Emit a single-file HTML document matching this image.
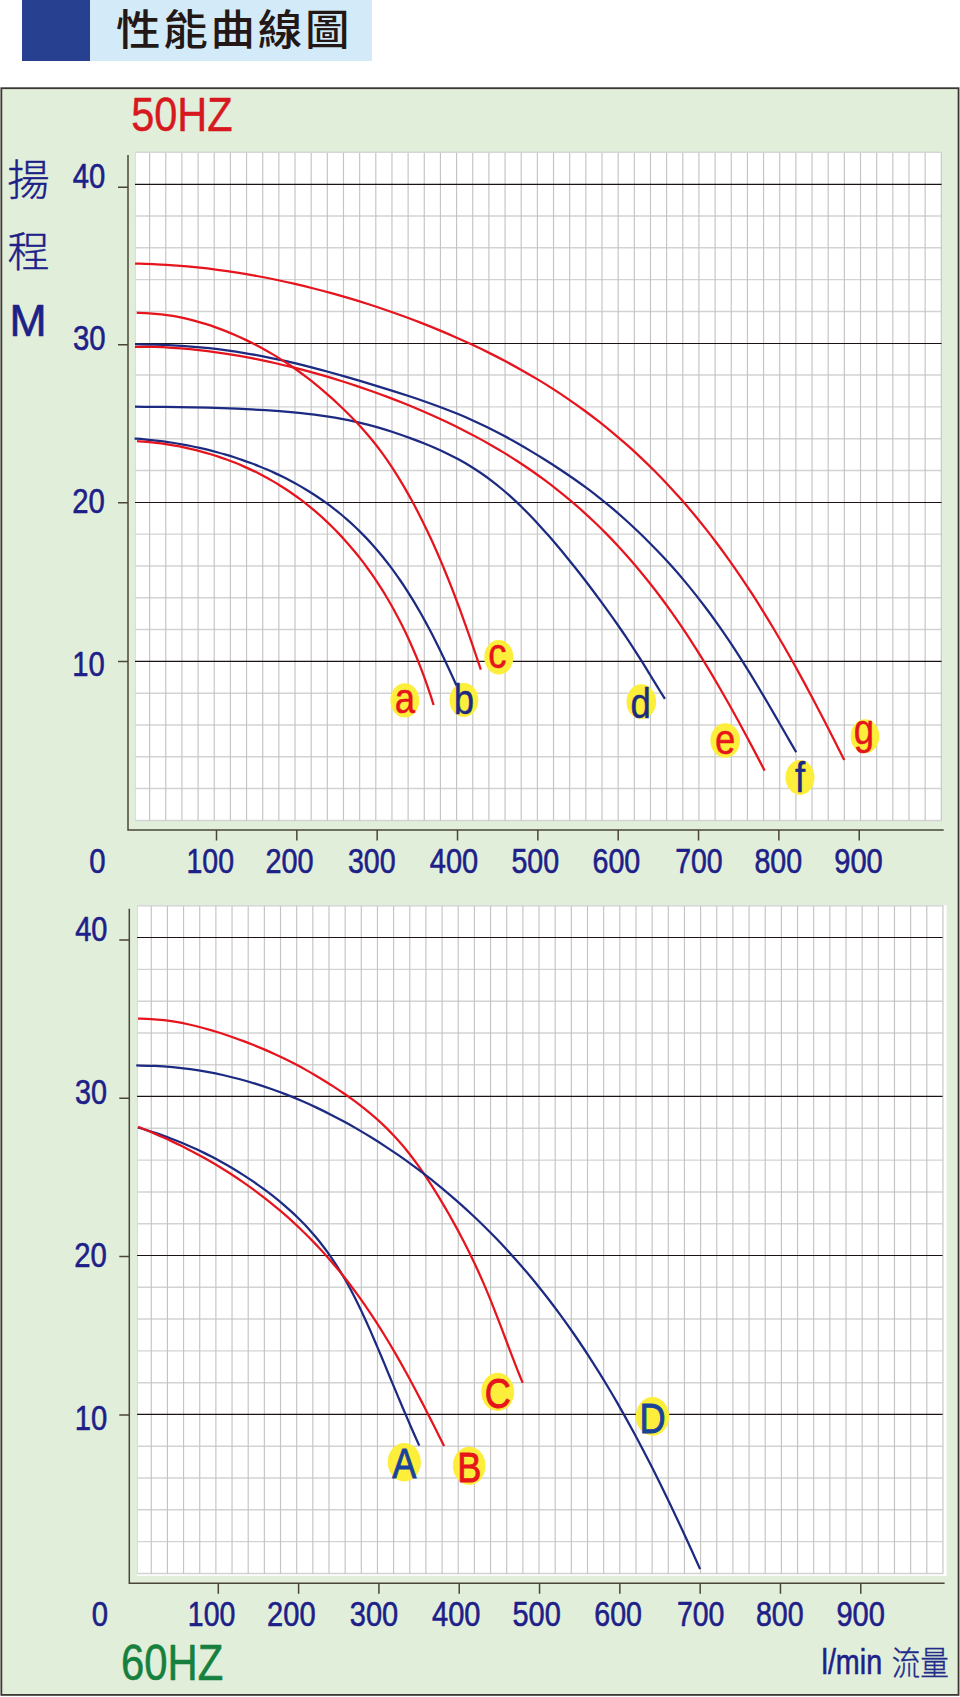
<!DOCTYPE html>
<html lang="zh-Hant">
<head>
<meta charset="utf-8">
<title>性能曲線圖</title>
<style>
html,body{margin:0;padding:0;background:#fff;}
body{width:960px;height:1697px;position:relative;overflow:hidden;font-family:"Liberation Sans", "Noto Sans CJK TC", sans-serif;}
.title{position:absolute;left:22px;top:0;width:350px;height:61px;background:#d3eaf8;}
.title .sq{position:absolute;left:0;top:0;width:68px;height:61px;background:#27408f;}
.title h1{position:absolute;left:94px;top:0;margin:0;font-size:42px;line-height:61px;font-weight:500;color:#231815;letter-spacing:2.6px;white-space:nowrap;transform:scaleX(1.06);transform-origin:0 0;font-family:"Liberation Sans","Noto Sans CJK TC",sans-serif;}
.panel{position:absolute;left:1px;top:88px;width:958px;height:1607px;background:#e1efda;}
svg{position:absolute;left:0;top:0;}
svg text{font-family:"Liberation Sans", "Noto Sans CJK TC", sans-serif;}
</style>
</head>
<body>
<div class="title"><div class="sq"></div><h1>性能曲線圖</h1></div>
<div class="panel"></div>
<svg width="960" height="1697" viewBox="0 0 960 1697">
<rect x="1.35" y="88.2" width="957.2" height="1606.7" fill="none" stroke="#3c3732" stroke-width="1.8"/>
<rect x="135" y="152" width="806.6" height="668.6" fill="#fff"/>
<path d="M135 820.40H941.6M135 788.59H941.6M135 756.78H941.6M135 724.97H941.6M135 693.16H941.6M135 629.54H941.6M135 597.73H941.6M135 565.92H941.6M135 534.11H941.6M135 470.49H941.6M135 438.68H941.6M135 406.87H941.6M135 375.06H941.6M135 311.44H941.6M135 279.63H941.6M135 247.82H941.6M135 216.01H941.6M135 152.39H941.6" stroke="#d3d3d3" stroke-width="1.45" fill="none"/>
<path d="M149.61 152V820.6M165.76 152V820.6M181.92 152V820.6M198.08 152V820.6M214.23 152V820.6M230.39 152V820.6M246.55 152V820.6M262.71 152V820.6M278.86 152V820.6M295.02 152V820.6M311.18 152V820.6M327.33 152V820.6M343.49 152V820.6M359.65 152V820.6M375.80 152V820.6M391.96 152V820.6M408.12 152V820.6M424.28 152V820.6M440.43 152V820.6M456.59 152V820.6M472.75 152V820.6M488.90 152V820.6M505.06 152V820.6M521.22 152V820.6M537.38 152V820.6M553.53 152V820.6M569.69 152V820.6M585.85 152V820.6M602.00 152V820.6M618.16 152V820.6M634.32 152V820.6M650.47 152V820.6M666.63 152V820.6M682.79 152V820.6M698.94 152V820.6M715.10 152V820.6M731.26 152V820.6M747.42 152V820.6M763.57 152V820.6M779.73 152V820.6M795.89 152V820.6M812.04 152V820.6M828.20 152V820.6M844.36 152V820.6M860.52 152V820.6M876.67 152V820.6M892.83 152V820.6M908.99 152V820.6M925.14 152V820.6M941.30 152V820.6" stroke="#c4c4c4" stroke-width="1.15" fill="none"/>
<path d="M135.3 820.6V152.3H941.6" stroke="#d8d8d8" stroke-width="1" fill="none"/>
<path d="M135 184.40H941.6M135 343.50H941.6M135 502.45H941.6M135 661.40H941.6" stroke="#1a1311" stroke-width="1.1" fill="none"/>
<path d="M128 155V830H943.7M118 187.2H128M118 344.8H128M118 502.7H128M118 661.4H128M216.5 830V840.5M296.84000000000003 830V840.5M377.18 830V840.5M457.52 830V840.5M537.86 830V840.5M618.2 830V840.5M698.54 830V840.5M778.88 830V840.5M859.22 830V840.5" stroke="#4a4535" stroke-width="1.5" fill="none"/>
<rect x="137.1" y="905.3" width="809.6" height="670.5" fill="#fff"/>
<path d="M137.1 1573.40H942.6M137.1 1541.61H942.6M137.1 1509.82H942.6M137.1 1478.03H942.6M137.1 1446.24H942.6M137.1 1382.66H942.6M137.1 1350.87H942.6M137.1 1319.08H942.6M137.1 1287.29H942.6M137.1 1223.71H942.6M137.1 1191.92H942.6M137.1 1160.13H942.6M137.1 1128.34H942.6M137.1 1064.76H942.6M137.1 1032.97H942.6M137.1 1001.18H942.6M137.1 969.39H942.6M137.1 905.81H942.6" stroke="#d3d3d3" stroke-width="1.45" fill="none"/>
<path d="M151.26 905.3V1573.7M167.41 905.3V1573.7M183.57 905.3V1573.7M199.73 905.3V1573.7M215.88 905.3V1573.7M232.04 905.3V1573.7M248.20 905.3V1573.7M264.36 905.3V1573.7M280.51 905.3V1573.7M296.67 905.3V1573.7M312.83 905.3V1573.7M328.98 905.3V1573.7M345.14 905.3V1573.7M361.30 905.3V1573.7M377.45 905.3V1573.7M393.61 905.3V1573.7M409.77 905.3V1573.7M425.93 905.3V1573.7M442.08 905.3V1573.7M458.24 905.3V1573.7M474.40 905.3V1573.7M490.55 905.3V1573.7M506.71 905.3V1573.7M522.87 905.3V1573.7M539.02 905.3V1573.7M555.18 905.3V1573.7M571.34 905.3V1573.7M587.50 905.3V1573.7M603.65 905.3V1573.7M619.81 905.3V1573.7M635.97 905.3V1573.7M652.12 905.3V1573.7M668.28 905.3V1573.7M684.44 905.3V1573.7M700.60 905.3V1573.7M716.75 905.3V1573.7M732.91 905.3V1573.7M749.07 905.3V1573.7M765.22 905.3V1573.7M781.38 905.3V1573.7M797.54 905.3V1573.7M813.69 905.3V1573.7M829.85 905.3V1573.7M846.01 905.3V1573.7M862.17 905.3V1573.7M878.32 905.3V1573.7M894.48 905.3V1573.7M910.64 905.3V1573.7M926.79 905.3V1573.7M942.95 905.3V1573.7" stroke="#c4c4c4" stroke-width="1.15" fill="none"/>
<path d="M137.4 1573.7V905.5999999999999H942.6" stroke="#d8d8d8" stroke-width="1" fill="none"/>
<path d="M137.1 937.50H942.6M137.1 1096.40H942.6M137.1 1255.50H942.6M137.1 1414.40H942.6" stroke="#1a1311" stroke-width="1.1" fill="none"/>
<path d="M129.3 908.7V1583.3H944.6M119.30000000000001 940H129.3M119.30000000000001 1098.3H129.3M119.30000000000001 1256.6H129.3M119.30000000000001 1415H129.3M218.3 1583.3V1593.8M298.61 1583.3V1593.8M378.92 1583.3V1593.8M459.23 1583.3V1593.8M539.54 1583.3V1593.8M619.85 1583.3V1593.8M700.1600000000001 1583.3V1593.8M780.47 1583.3V1593.8M860.78 1583.3V1593.8" stroke="#4a4535" stroke-width="1.5" fill="none"/>
<path d="M135.06 263.60C138.58 263.72 149.20 263.96 156.18 264.29C163.16 264.62 170.07 265.06 176.93 265.58C183.79 266.11 190.59 266.73 197.33 267.44C204.08 268.14 210.78 268.94 217.42 269.82C224.07 270.69 230.66 271.65 237.21 272.68C243.76 273.71 250.26 274.83 256.72 276.01C263.18 277.19 269.59 278.44 275.96 279.76C282.34 281.08 288.67 282.48 294.96 283.93C301.25 285.38 307.51 286.90 313.72 288.48C319.94 290.05 326.12 291.69 332.26 293.39C338.40 295.09 344.51 296.85 350.58 298.67C356.65 300.48 362.69 302.35 368.69 304.28C374.69 306.21 380.66 308.20 386.59 310.24C392.53 312.28 398.42 314.37 404.29 316.53C410.16 318.68 415.99 320.89 421.78 323.15C427.58 325.42 433.34 327.74 439.07 330.12C444.80 332.50 450.49 334.93 456.15 337.43C461.80 339.92 467.42 342.48 473.00 345.09C478.59 347.71 484.13 350.39 489.64 353.13C495.14 355.88 500.61 358.68 506.03 361.56C511.45 364.44 516.83 367.38 522.17 370.40C527.51 373.41 532.81 376.50 538.05 379.66C543.30 382.83 548.50 386.06 553.66 389.38C558.81 392.70 563.92 396.09 568.98 399.56C574.04 403.03 579.05 406.59 584.01 410.22C588.97 413.86 593.88 417.57 598.74 421.37C603.60 425.17 608.41 429.05 613.17 433.02C617.93 436.99 622.63 441.04 627.29 445.17C631.94 449.30 636.55 453.52 641.10 457.83C645.65 462.13 650.15 466.52 654.60 470.99C659.05 475.46 663.45 480.02 667.79 484.66C672.14 489.30 676.44 494.02 680.68 498.83C684.93 503.63 689.12 508.52 693.27 513.49C697.42 518.45 701.51 523.50 705.56 528.63C709.61 533.75 713.61 538.96 717.57 544.24C721.53 549.52 725.44 554.88 729.30 560.31C733.17 565.73 736.98 571.24 740.76 576.81C744.54 582.38 748.28 588.02 751.97 593.73C755.67 599.43 759.32 605.21 762.94 611.04C766.56 616.87 770.14 622.77 773.69 628.72C777.23 634.67 780.74 640.68 784.22 646.73C787.71 652.79 791.15 658.90 794.57 665.06C798.00 671.21 801.39 677.42 804.76 683.66C808.13 689.90 811.47 696.18 814.79 702.50C818.12 708.81 821.42 715.16 824.71 721.53C828.00 727.91 831.27 734.31 834.53 740.73C837.79 747.15 842.65 756.82 844.27 760.04" stroke="#e6141d" stroke-width="2.25" fill="none"/>
<path d="M134.99 344.21C138.14 344.27 147.64 344.36 153.90 344.54C160.16 344.72 166.38 344.97 172.56 345.30C178.73 345.63 184.86 346.04 190.94 346.53C197.03 347.02 203.07 347.58 209.06 348.23C215.05 348.87 221.00 349.60 226.90 350.40C232.80 351.20 238.66 352.07 244.48 353.02C250.29 353.97 256.06 355.00 261.80 356.09C267.53 357.18 273.22 358.35 278.88 359.57C284.54 360.79 290.16 362.08 295.75 363.42C301.34 364.75 306.90 366.15 312.43 367.59C317.97 369.02 323.47 370.51 328.96 372.02C334.45 373.53 339.92 375.08 345.38 376.65C350.84 378.22 356.28 379.81 361.71 381.43C367.14 383.04 372.56 384.67 377.97 386.32C383.38 387.98 388.78 389.65 394.16 391.35C399.54 393.05 404.91 394.77 410.25 396.54C415.59 398.31 420.92 400.10 426.21 401.96C431.50 403.82 436.76 405.72 441.98 407.69C447.21 409.67 452.40 411.70 457.54 413.82C462.68 415.93 467.77 418.13 472.82 420.41C477.86 422.69 482.85 425.06 487.80 427.50C492.75 429.95 497.65 432.48 502.52 435.07C507.39 437.66 512.21 440.32 517.00 443.03C521.80 445.75 526.56 448.52 531.29 451.35C536.02 454.17 540.71 457.05 545.38 459.98C550.05 462.91 554.69 465.90 559.29 468.94C563.90 471.98 568.47 475.07 573.01 478.23C577.54 481.39 582.04 484.61 586.50 487.91C590.95 491.21 595.37 494.58 599.73 498.03C604.10 501.49 608.41 505.02 612.68 508.64C616.95 512.26 621.17 515.96 625.36 519.73C629.54 523.50 633.68 527.35 637.78 531.26C641.88 535.17 645.94 539.15 649.96 543.19C653.98 547.24 657.96 551.36 661.90 555.55C665.84 559.75 669.73 564.01 673.58 568.35C677.43 572.70 681.24 577.12 685.00 581.61C688.76 586.11 692.48 590.68 696.15 595.34C699.82 599.99 703.45 604.72 707.03 609.52C710.62 614.32 714.16 619.20 717.66 624.14C721.16 629.09 724.62 634.11 728.04 639.19C731.46 644.27 734.84 649.42 738.20 654.62C741.55 659.82 744.86 665.09 748.15 670.40C751.45 675.71 754.70 681.07 757.94 686.47C761.19 691.86 764.40 697.31 767.60 702.77C770.80 708.22 773.99 713.72 777.17 719.22C780.35 724.72 783.51 730.24 786.69 735.75C789.87 741.26 794.63 749.51 796.22 752.26" stroke="#1c2a82" stroke-width="2.25" fill="none"/>
<path d="M134.96 346.76C138.09 346.79 147.52 346.77 153.70 346.94C159.87 347.11 165.98 347.39 172.03 347.77C178.09 348.14 184.08 348.62 190.02 349.18C195.96 349.75 201.84 350.40 207.68 351.13C213.52 351.86 219.31 352.67 225.06 353.55C230.81 354.43 236.51 355.39 242.18 356.40C247.85 357.42 253.47 358.50 259.07 359.64C264.66 360.78 270.21 361.98 275.74 363.24C281.26 364.49 286.75 365.80 292.21 367.16C297.67 368.52 303.09 369.94 308.49 371.40C313.89 372.86 319.26 374.37 324.60 375.93C329.94 377.48 335.25 379.09 340.53 380.74C345.82 382.39 351.07 384.09 356.30 385.83C361.53 387.58 366.73 389.37 371.90 391.20C377.07 393.04 382.21 394.92 387.33 396.85C392.45 398.77 397.54 400.75 402.60 402.77C407.66 404.79 412.69 406.86 417.69 408.98C422.69 411.10 427.66 413.26 432.61 415.48C437.55 417.70 442.46 419.96 447.34 422.29C452.22 424.61 457.06 426.98 461.88 429.41C466.69 431.85 471.47 434.33 476.21 436.88C480.95 439.43 485.66 442.03 490.33 444.70C495.00 447.37 499.63 450.10 504.22 452.90C508.81 455.70 513.36 458.56 517.87 461.50C522.38 464.43 526.85 467.43 531.28 470.50C535.71 473.57 540.09 476.71 544.43 479.93C548.77 483.14 553.07 486.43 557.32 489.79C561.58 493.14 565.78 496.58 569.95 500.08C574.11 503.59 578.23 507.17 582.31 510.82C586.38 514.47 590.41 518.20 594.40 522.00C598.38 525.81 602.32 529.68 606.22 533.63C610.12 537.59 613.97 541.61 617.77 545.71C621.58 549.80 625.34 553.98 629.06 558.22C632.78 562.46 636.46 566.78 640.10 571.16C643.73 575.54 647.32 580.00 650.87 584.52C654.42 589.04 657.93 593.63 661.40 598.29C664.87 602.94 668.30 607.67 671.70 612.45C675.09 617.23 678.44 622.08 681.76 626.99C685.08 631.89 688.37 636.86 691.62 641.88C694.87 646.90 698.08 651.98 701.27 657.11C704.45 662.23 707.61 667.42 710.73 672.64C713.86 677.87 716.96 683.14 720.03 688.46C723.10 693.77 726.15 699.13 729.17 704.53C732.20 709.92 735.20 715.35 738.19 720.81C741.17 726.27 744.13 731.77 747.09 737.28C750.04 742.80 752.97 748.34 755.90 753.90C758.82 759.46 763.19 767.84 764.64 770.63" stroke="#e6141d" stroke-width="2.25" fill="none"/>
<path d="M134.98 406.74C137.43 406.75 144.78 406.75 149.67 406.78C154.56 406.80 159.44 406.85 164.31 406.90C169.19 406.95 174.06 407.02 178.92 407.10C183.78 407.18 188.63 407.27 193.48 407.37C198.33 407.47 203.17 407.59 208.00 407.72C212.83 407.86 217.65 408.00 222.46 408.16C227.28 408.33 232.08 408.51 236.88 408.71C241.67 408.91 246.45 409.13 251.22 409.38C255.99 409.62 260.74 409.89 265.48 410.19C270.22 410.49 274.94 410.82 279.65 411.18C284.35 411.55 289.03 411.94 293.69 412.38C298.35 412.83 302.99 413.30 307.60 413.84C312.21 414.37 316.80 414.95 321.35 415.59C325.89 416.23 330.42 416.92 334.90 417.69C339.38 418.45 343.83 419.28 348.23 420.18C352.64 421.09 357.00 422.06 361.33 423.10C365.66 424.14 369.95 425.26 374.20 426.44C378.45 427.62 382.66 428.87 386.85 430.17C391.03 431.47 395.18 432.84 399.31 434.24C403.43 435.65 407.54 437.10 411.61 438.60C415.69 440.10 419.74 441.64 423.76 443.24C427.77 444.85 431.77 446.49 435.71 448.23C439.66 449.96 443.57 451.76 447.43 453.65C451.29 455.53 455.11 457.50 458.87 459.56C462.64 461.62 466.35 463.77 470.02 466.02C473.68 468.27 477.29 470.61 480.85 473.04C484.41 475.47 487.91 478.00 491.37 480.62C494.82 483.24 498.22 485.96 501.58 488.76C504.94 491.56 508.24 494.45 511.51 497.41C514.78 500.38 517.99 503.43 521.18 506.54C524.36 509.65 527.51 512.83 530.62 516.07C533.74 519.30 536.82 522.60 539.87 525.94C542.93 529.29 545.96 532.68 548.96 536.11C551.97 539.55 554.95 543.03 557.91 546.54C560.88 550.05 563.82 553.60 566.74 557.18C569.67 560.76 572.58 564.37 575.47 568.01C578.36 571.65 581.23 575.33 584.09 579.02C586.95 582.72 589.79 586.45 592.62 590.20C595.45 593.96 598.27 597.74 601.06 601.55C603.86 605.36 606.64 609.20 609.41 613.07C612.18 616.93 614.93 620.83 617.66 624.76C620.39 628.69 623.10 632.65 625.79 636.66C628.48 640.66 631.16 644.69 633.81 648.77C636.46 652.85 639.08 656.98 641.68 661.14C644.29 665.30 646.86 669.52 649.43 673.73C652.01 677.94 654.56 682.21 657.14 686.41C659.72 690.61 663.63 696.84 664.93 698.92" stroke="#1c2a82" stroke-width="2.25" fill="none"/>
<path d="M136.74 312.95C138.82 313.00 145.17 313.05 149.26 313.27C153.35 313.50 157.34 313.86 161.27 314.31C165.20 314.76 169.05 315.32 172.84 315.96C176.63 316.60 180.35 317.35 184.02 318.16C187.70 318.97 191.30 319.87 194.87 320.83C198.43 321.79 201.94 322.83 205.41 323.92C208.88 325.01 212.30 326.17 215.69 327.37C219.08 328.58 222.42 329.85 225.73 331.16C229.04 332.47 232.32 333.84 235.56 335.25C238.80 336.66 242.01 338.12 245.18 339.63C248.36 341.13 251.50 342.68 254.61 344.28C257.72 345.87 260.79 347.51 263.84 349.20C266.89 350.88 269.90 352.61 272.88 354.38C275.86 356.16 278.81 357.97 281.73 359.83C284.66 361.69 287.54 363.59 290.40 365.54C293.26 367.48 296.09 369.47 298.89 371.49C301.70 373.52 304.47 375.59 307.21 377.69C309.96 379.80 312.67 381.94 315.36 384.13C318.05 386.31 320.71 388.53 323.35 390.79C325.98 393.04 328.59 395.34 331.18 397.66C333.76 399.99 336.32 402.36 338.86 404.75C341.40 407.14 343.91 409.57 346.40 412.03C348.89 414.49 351.37 416.97 353.81 419.50C356.25 422.03 358.67 424.59 361.05 427.20C363.43 429.82 365.78 432.48 368.08 435.19C370.39 437.90 372.67 440.67 374.90 443.49C377.13 446.30 379.33 449.18 381.49 452.10C383.64 455.03 385.76 458.01 387.84 461.04C389.92 464.07 391.97 467.16 393.98 470.29C395.99 473.41 397.97 476.59 399.91 479.81C401.86 483.03 403.78 486.29 405.67 489.58C407.56 492.88 409.43 496.22 411.27 499.58C413.11 502.95 414.92 506.36 416.71 509.79C418.50 513.23 420.27 516.70 422.02 520.20C423.76 523.70 425.49 527.23 427.19 530.79C428.89 534.36 430.57 537.95 432.23 541.57C433.88 545.19 435.52 548.85 437.14 552.53C438.75 556.21 440.35 559.92 441.92 563.66C443.50 567.40 445.05 571.16 446.59 574.95C448.13 578.74 449.65 582.56 451.15 586.40C452.66 590.24 454.14 594.10 455.61 597.99C457.08 601.87 458.53 605.78 459.98 609.71C461.42 613.63 462.84 617.58 464.26 621.54C465.68 625.50 467.08 629.48 468.47 633.47C469.87 637.46 471.25 641.47 472.63 645.48C474.01 649.49 475.38 653.52 476.75 657.55C478.11 661.58 480.15 667.64 480.83 669.65" stroke="#e6141d" stroke-width="2.25" fill="none"/>
<path d="M134.58 438.58C136.19 438.70 141.04 439.04 144.24 439.32C147.44 439.60 150.61 439.92 153.77 440.26C156.93 440.61 160.06 440.99 163.18 441.41C166.29 441.82 169.38 442.26 172.46 442.74C175.54 443.22 178.59 443.73 181.63 444.27C184.66 444.81 187.68 445.38 190.68 445.98C193.67 446.58 196.65 447.21 199.61 447.88C202.57 448.54 205.51 449.23 208.43 449.96C211.35 450.68 214.26 451.43 217.14 452.22C220.03 453.00 222.89 453.82 225.74 454.66C228.58 455.51 231.41 456.38 234.22 457.28C237.03 458.19 239.82 459.12 242.59 460.09C245.36 461.05 248.12 462.05 250.85 463.07C253.59 464.10 256.30 465.15 259.00 466.24C261.69 467.32 264.37 468.44 267.03 469.59C269.69 470.74 272.32 471.91 274.94 473.13C277.56 474.34 280.16 475.58 282.74 476.85C285.32 478.13 287.88 479.43 290.42 480.77C292.95 482.11 295.47 483.48 297.97 484.89C300.47 486.30 302.94 487.73 305.40 489.21C307.85 490.68 310.29 492.19 312.70 493.73C315.11 495.28 317.50 496.86 319.87 498.47C322.23 500.09 324.58 501.74 326.90 503.43C329.22 505.11 331.52 506.84 333.79 508.60C336.07 510.36 338.32 512.16 340.55 514.00C342.78 515.84 344.98 517.72 347.16 519.63C349.34 521.55 351.50 523.50 353.63 525.49C355.77 527.48 357.88 529.51 359.96 531.58C362.05 533.64 364.11 535.75 366.15 537.89C368.19 540.04 370.20 542.22 372.19 544.44C374.18 546.66 376.15 548.91 378.09 551.21C380.04 553.50 381.96 555.84 383.86 558.20C385.76 560.57 387.63 562.98 389.48 565.42C391.34 567.86 393.17 570.34 394.98 572.85C396.78 575.36 398.57 577.91 400.34 580.49C402.10 583.07 403.85 585.69 405.57 588.34C407.30 590.99 409.00 593.67 410.68 596.38C412.37 599.09 414.03 601.84 415.68 604.61C417.32 607.38 418.95 610.19 420.56 613.02C422.17 615.85 423.76 618.72 425.34 621.60C426.91 624.49 428.47 627.40 430.01 630.34C431.56 633.28 433.09 636.25 434.60 639.23C436.11 642.22 437.61 645.23 439.10 648.25C440.59 651.28 442.06 654.33 443.53 657.40C444.99 660.47 446.44 663.55 447.88 666.65C449.33 669.75 450.76 672.87 452.18 676.00C453.61 679.13 455.73 683.85 456.44 685.42" stroke="#1c2a82" stroke-width="2.25" fill="none"/>
<path d="M137.07 441.16C138.69 441.29 143.56 441.63 146.76 441.93C149.96 442.23 153.14 442.56 156.28 442.94C159.42 443.32 162.54 443.74 165.63 444.20C168.72 444.65 171.78 445.15 174.81 445.69C177.84 446.23 180.85 446.80 183.83 447.42C186.81 448.03 189.76 448.69 192.68 449.38C195.61 450.07 198.51 450.80 201.38 451.57C204.25 452.34 207.10 453.14 209.92 453.98C212.74 454.83 215.53 455.71 218.30 456.62C221.07 457.54 223.81 458.49 226.53 459.48C229.25 460.47 231.94 461.50 234.60 462.56C237.27 463.62 239.91 464.72 242.53 465.85C245.15 466.99 247.74 468.16 250.31 469.36C252.88 470.56 255.42 471.80 257.94 473.08C260.46 474.35 262.96 475.66 265.43 477.00C267.90 478.34 270.35 479.72 272.77 481.13C275.20 482.54 277.60 483.99 279.97 485.47C282.35 486.94 284.70 488.46 287.03 490.00C289.36 491.55 291.67 493.13 293.95 494.74C296.24 496.35 298.50 498.00 300.73 499.68C302.97 501.35 305.19 503.06 307.38 504.81C309.57 506.55 311.74 508.33 313.88 510.14C316.03 511.95 318.15 513.79 320.26 515.66C322.36 517.53 324.44 519.44 326.49 521.38C328.55 523.31 330.58 525.28 332.60 527.28C334.61 529.29 336.60 531.32 338.57 533.38C340.53 535.45 342.48 537.55 344.40 539.67C346.33 541.80 348.23 543.96 350.11 546.15C351.99 548.34 353.85 550.57 355.68 552.82C357.52 555.07 359.33 557.36 361.13 559.68C362.92 561.99 364.69 564.34 366.44 566.72C368.19 569.10 369.92 571.51 371.62 573.95C373.33 576.39 375.01 578.86 376.67 581.37C378.33 583.87 379.97 586.40 381.59 588.97C383.21 591.54 384.81 594.13 386.38 596.76C387.96 599.39 389.51 602.05 391.04 604.74C392.58 607.43 394.09 610.15 395.57 612.91C397.06 615.66 398.53 618.44 399.97 621.26C401.42 624.07 402.84 626.92 404.24 629.80C405.64 632.68 407.02 635.59 408.38 638.53C409.73 641.47 411.07 644.44 412.38 647.45C413.69 650.45 414.99 653.49 416.25 656.55C417.52 659.62 418.77 662.72 419.99 665.85C421.22 668.99 422.42 672.15 423.60 675.34C424.78 678.54 425.94 681.77 427.07 685.03C428.20 688.29 429.32 691.58 430.41 694.91C431.50 698.23 433.07 703.30 433.61 704.98" stroke="#e6141d" stroke-width="2.25" fill="none"/>
<path d="M138.05 1018.67C140.25 1018.73 146.91 1018.79 151.22 1019.04C155.52 1019.29 159.72 1019.69 163.87 1020.17C168.01 1020.65 172.07 1021.26 176.09 1021.94C180.10 1022.62 184.04 1023.40 187.94 1024.25C191.85 1025.09 195.69 1026.02 199.50 1027.00C203.31 1027.97 207.07 1029.02 210.81 1030.12C214.54 1031.21 218.24 1032.36 221.91 1033.55C225.58 1034.73 229.21 1035.97 232.83 1037.24C236.44 1038.51 240.03 1039.82 243.59 1041.16C247.15 1042.51 250.69 1043.89 254.21 1045.30C257.73 1046.72 261.22 1048.17 264.69 1049.65C268.15 1051.14 271.60 1052.66 275.01 1054.23C278.43 1055.79 281.82 1057.39 285.18 1059.04C288.54 1060.68 291.87 1062.37 295.18 1064.09C298.49 1065.82 301.76 1067.59 305.02 1069.39C308.27 1071.20 311.49 1073.04 314.70 1074.92C317.90 1076.80 321.08 1078.72 324.23 1080.67C327.39 1082.62 330.52 1084.61 333.63 1086.62C336.74 1088.64 339.82 1090.69 342.88 1092.78C345.94 1094.87 348.98 1097.00 351.99 1099.17C354.99 1101.34 357.97 1103.55 360.91 1105.82C363.85 1108.09 366.76 1110.40 369.62 1112.79C372.49 1115.17 375.31 1117.61 378.09 1120.12C380.86 1122.63 383.60 1125.20 386.28 1127.85C388.97 1130.50 391.60 1133.22 394.19 1136.01C396.78 1138.79 399.32 1141.66 401.81 1144.58C404.31 1147.51 406.75 1150.51 409.16 1153.57C411.57 1156.63 413.93 1159.76 416.25 1162.94C418.58 1166.12 420.86 1169.36 423.12 1172.64C425.37 1175.92 427.59 1179.26 429.78 1182.64C431.98 1186.02 434.13 1189.44 436.27 1192.90C438.41 1196.36 440.52 1199.86 442.61 1203.38C444.70 1206.91 446.77 1210.47 448.81 1214.06C450.86 1217.65 452.89 1221.27 454.90 1224.92C456.91 1228.57 458.90 1232.24 460.86 1235.96C462.83 1239.67 464.77 1243.42 466.68 1247.21C468.60 1251.00 470.48 1254.83 472.34 1258.70C474.20 1262.57 476.03 1266.48 477.84 1270.43C479.64 1274.39 481.41 1278.38 483.16 1282.42C484.91 1286.45 486.63 1290.53 488.33 1294.64C490.03 1298.74 491.70 1302.89 493.35 1307.06C495.01 1311.23 496.64 1315.44 498.27 1319.66C499.89 1323.87 501.50 1328.12 503.10 1332.37C504.71 1336.61 506.30 1340.88 507.90 1345.12C509.51 1349.37 511.11 1353.63 512.73 1357.85C514.35 1362.07 515.97 1366.29 517.63 1370.46C519.29 1374.62 521.85 1380.77 522.69 1382.84" stroke="#e6141d" stroke-width="2.25" fill="none"/>
<path d="M136.27 1065.46C139.35 1065.54 148.67 1065.62 154.74 1065.90C160.81 1066.17 166.80 1066.60 172.70 1067.14C178.61 1067.68 184.43 1068.36 190.18 1069.15C195.93 1069.94 201.60 1070.85 207.21 1071.87C212.82 1072.89 218.35 1074.02 223.82 1075.26C229.29 1076.49 234.69 1077.83 240.04 1079.27C245.38 1080.70 250.66 1082.24 255.89 1083.86C261.11 1085.48 266.28 1087.20 271.39 1089.00C276.51 1090.80 281.57 1092.69 286.58 1094.65C291.59 1096.62 296.55 1098.67 301.46 1100.79C306.37 1102.91 311.23 1105.11 316.05 1107.38C320.87 1109.64 325.65 1111.98 330.38 1114.39C335.11 1116.79 339.80 1119.27 344.45 1121.81C349.10 1124.34 353.71 1126.95 358.28 1129.61C362.85 1132.28 367.38 1135.00 371.88 1137.79C376.37 1140.57 380.83 1143.41 385.25 1146.32C389.67 1149.22 394.06 1152.18 398.41 1155.19C402.76 1158.20 407.07 1161.28 411.35 1164.40C415.63 1167.53 419.87 1170.71 424.08 1173.95C428.29 1177.19 432.47 1180.48 436.61 1183.83C440.75 1187.17 444.85 1190.58 448.92 1194.04C452.99 1197.50 457.03 1201.01 461.03 1204.58C465.02 1208.16 468.99 1211.79 472.91 1215.47C476.84 1219.16 480.73 1222.90 484.59 1226.70C488.44 1230.50 492.26 1234.36 496.05 1238.27C499.83 1242.19 503.58 1246.16 507.29 1250.19C511.00 1254.22 514.67 1258.30 518.31 1262.45C521.95 1266.59 525.56 1270.79 529.13 1275.04C532.69 1279.30 536.23 1283.61 539.73 1287.98C543.22 1292.35 546.69 1296.77 550.12 1301.25C553.54 1305.73 556.94 1310.26 560.30 1314.84C563.66 1319.43 566.98 1324.07 570.28 1328.77C573.57 1333.46 576.83 1338.20 580.06 1343.00C583.29 1347.80 586.48 1352.65 589.65 1357.54C592.81 1362.44 595.94 1367.39 599.05 1372.39C602.15 1377.38 605.22 1382.43 608.26 1387.52C611.31 1392.61 614.32 1397.74 617.31 1402.92C620.29 1408.10 623.25 1413.33 626.18 1418.60C629.11 1423.86 632.02 1429.18 634.90 1434.52C637.78 1439.87 640.63 1445.26 643.47 1450.69C646.30 1456.11 649.11 1461.58 651.89 1467.08C654.68 1472.57 657.44 1478.11 660.19 1483.67C662.93 1489.23 665.66 1494.83 668.36 1500.45C671.07 1506.08 673.76 1511.73 676.43 1517.41C679.11 1523.09 681.76 1528.79 684.41 1534.52C687.05 1540.25 689.68 1546.00 692.29 1551.76C694.91 1557.53 698.81 1566.22 700.11 1569.11" stroke="#1c2a82" stroke-width="2.25" fill="none"/>
<path d="M137.84 1127.44C139.29 1127.88 143.67 1129.17 146.56 1130.08C149.45 1130.98 152.33 1131.91 155.18 1132.87C158.04 1133.82 160.87 1134.81 163.69 1135.82C166.51 1136.83 169.31 1137.87 172.10 1138.94C174.88 1140.00 177.64 1141.10 180.39 1142.23C183.13 1143.35 185.86 1144.50 188.56 1145.69C191.27 1146.87 193.96 1148.08 196.63 1149.32C199.29 1150.56 201.94 1151.82 204.58 1153.12C207.21 1154.42 209.82 1155.74 212.41 1157.09C215.01 1158.44 217.58 1159.82 220.14 1161.23C222.70 1162.63 225.24 1164.07 227.77 1165.53C230.29 1166.98 232.80 1168.47 235.29 1169.98C237.77 1171.49 240.25 1173.03 242.70 1174.59C245.15 1176.16 247.59 1177.75 250.01 1179.36C252.43 1180.98 254.83 1182.62 257.21 1184.30C259.60 1185.97 261.96 1187.67 264.31 1189.40C266.65 1191.13 268.98 1192.88 271.28 1194.67C273.59 1196.46 275.87 1198.28 278.13 1200.14C280.40 1201.99 282.64 1203.87 284.86 1205.79C287.08 1207.71 289.27 1209.67 291.44 1211.66C293.61 1213.66 295.76 1215.68 297.88 1217.76C300.00 1219.83 302.09 1221.94 304.15 1224.09C306.22 1226.25 308.25 1228.45 310.26 1230.69C312.26 1232.93 314.24 1235.22 316.18 1237.56C318.13 1239.89 320.04 1242.27 321.92 1244.70C323.81 1247.13 325.66 1249.60 327.48 1252.12C329.30 1254.65 331.09 1257.21 332.85 1259.83C334.61 1262.44 336.34 1265.10 338.04 1267.81C339.74 1270.51 341.41 1273.26 343.06 1276.05C344.70 1278.84 346.31 1281.68 347.90 1284.55C349.49 1287.42 351.05 1290.34 352.59 1293.29C354.13 1296.23 355.64 1299.22 357.14 1302.24C358.63 1305.25 360.10 1308.31 361.56 1311.38C363.01 1314.46 364.44 1317.57 365.87 1320.69C367.29 1323.82 368.69 1326.97 370.09 1330.14C371.48 1333.30 372.86 1336.49 374.24 1339.69C375.61 1342.88 376.98 1346.10 378.34 1349.32C379.70 1352.53 381.05 1355.77 382.40 1359.00C383.75 1362.23 385.10 1365.48 386.44 1368.72C387.79 1371.96 389.13 1375.20 390.47 1378.45C391.82 1381.69 393.16 1384.93 394.51 1388.17C395.86 1391.41 397.21 1394.65 398.56 1397.87C399.91 1401.10 401.27 1404.33 402.63 1407.54C404.00 1410.76 405.36 1413.97 406.74 1417.16C408.11 1420.36 409.49 1423.55 410.88 1426.73C412.27 1429.91 413.66 1433.07 415.06 1436.23C416.46 1439.38 418.59 1444.09 419.29 1445.66" stroke="#1c2a82" stroke-width="2.25" fill="none"/>
<path d="M138.21 1126.85C139.64 1127.43 143.93 1129.12 146.77 1130.29C149.61 1131.45 152.44 1132.64 155.25 1133.85C158.07 1135.06 160.87 1136.30 163.65 1137.55C166.44 1138.81 169.21 1140.08 171.97 1141.38C174.73 1142.68 177.48 1144.00 180.21 1145.35C182.94 1146.69 185.66 1148.06 188.36 1149.45C191.06 1150.84 193.75 1152.25 196.43 1153.69C199.10 1155.13 201.76 1156.59 204.41 1158.07C207.05 1159.56 209.69 1161.06 212.30 1162.59C214.92 1164.13 217.52 1165.68 220.11 1167.26C222.70 1168.84 225.27 1170.44 227.83 1172.07C230.39 1173.69 232.93 1175.35 235.46 1177.02C237.99 1178.70 240.50 1180.40 243.00 1182.12C245.50 1183.85 247.98 1185.60 250.45 1187.38C252.92 1189.15 255.37 1190.95 257.81 1192.78C260.24 1194.61 262.67 1196.46 265.07 1198.33C267.48 1200.21 269.87 1202.11 272.24 1204.04C274.61 1205.97 276.97 1207.93 279.31 1209.91C281.65 1211.89 283.98 1213.90 286.29 1215.93C288.60 1217.97 290.89 1220.03 293.17 1222.12C295.44 1224.21 297.70 1226.32 299.95 1228.47C302.19 1230.61 304.42 1232.78 306.63 1234.98C308.84 1237.17 311.03 1239.40 313.20 1241.65C315.38 1243.90 317.54 1246.18 319.68 1248.49C321.82 1250.80 323.95 1253.14 326.05 1255.51C328.16 1257.87 330.25 1260.27 332.32 1262.69C334.39 1265.11 336.45 1267.56 338.48 1270.04C340.52 1272.52 342.54 1275.03 344.55 1277.56C346.55 1280.10 348.53 1282.66 350.50 1285.25C352.47 1287.84 354.42 1290.46 356.36 1293.10C358.30 1295.75 360.22 1298.42 362.12 1301.12C364.02 1303.82 365.91 1306.54 367.78 1309.29C369.65 1312.04 371.51 1314.82 373.35 1317.62C375.19 1320.42 377.01 1323.25 378.82 1326.10C380.63 1328.95 382.43 1331.82 384.21 1334.72C385.99 1337.61 387.76 1340.53 389.52 1343.47C391.27 1346.41 393.02 1349.37 394.75 1352.36C396.48 1355.34 398.19 1358.34 399.90 1361.36C401.61 1364.38 403.30 1367.42 404.99 1370.47C406.67 1373.52 408.35 1376.60 410.02 1379.68C411.68 1382.77 413.34 1385.87 414.99 1388.98C416.64 1392.10 418.28 1395.23 419.91 1398.36C421.54 1401.50 423.17 1404.65 424.79 1407.81C426.42 1410.97 428.03 1414.14 429.64 1417.31C431.26 1420.48 432.86 1423.66 434.47 1426.85C436.08 1430.03 437.68 1433.22 439.28 1436.41C440.89 1439.60 443.29 1444.39 444.09 1445.98" stroke="#e6141d" stroke-width="2.25" fill="none"/>
<ellipse cx="404.8" cy="700.4" rx="14.4" ry="17.1" fill="#fcee3a"/>
<text transform="translate(404.80 712.90) scale(0.860 1)" font-size="42.5" fill="#e6141d" stroke="#e6141d" stroke-width="0.5" stroke-linejoin="round" text-anchor="middle" font-weight="normal" >a</text>
<ellipse cx="463.9" cy="699.9" rx="14.4" ry="17" fill="#fcee3a"/>
<text transform="translate(463.90 713.90) scale(0.860 1)" font-size="42.5" fill="#1c2a82" stroke="#1c2a82" stroke-width="0.5" stroke-linejoin="round" text-anchor="middle" font-weight="normal" >b</text>
<ellipse cx="498.8" cy="657.3" rx="14.5" ry="17.3" fill="#fcee3a"/>
<text transform="translate(497.50 668.30) scale(0.860 1)" font-size="42.5" fill="#e6141d" stroke="#e6141d" stroke-width="0.5" stroke-linejoin="round" text-anchor="middle" font-weight="normal" >c</text>
<ellipse cx="641.3" cy="701.7" rx="14.8" ry="17.4" fill="#fcee3a"/>
<text transform="translate(640.70 717.50) scale(0.860 1)" font-size="42.5" fill="#1c2a82" stroke="#1c2a82" stroke-width="0.5" stroke-linejoin="round" text-anchor="middle" font-weight="normal" >d</text>
<ellipse cx="725.2" cy="740.5" rx="14.8" ry="17.2" fill="#fcee3a"/>
<text transform="translate(725.20 753.70) scale(0.860 1)" font-size="42.5" fill="#e6141d" stroke="#e6141d" stroke-width="0.5" stroke-linejoin="round" text-anchor="middle" font-weight="normal" >e</text>
<ellipse cx="800" cy="777.5" rx="14.5" ry="17.5" fill="#fcee3a"/>
<text transform="translate(800.00 792.00) scale(0.860 1)" font-size="42.5" fill="#1c2a82" stroke="#1c2a82" stroke-width="0.5" stroke-linejoin="round" text-anchor="middle" font-weight="normal" >f</text>
<ellipse cx="865" cy="736.3" rx="14.3" ry="17" fill="#fcee3a"/>
<text transform="translate(864.00 743.60) scale(0.860 1)" font-size="42.5" fill="#e6141d" stroke="#e6141d" stroke-width="0.5" stroke-linejoin="round" text-anchor="middle" font-weight="normal" >g</text>
<ellipse cx="404.3" cy="1462.2" rx="16.6" ry="19.2" fill="#fcee3a"/>
<text transform="translate(404.30 1478.40) scale(0.850 1)" font-size="42.5" fill="#19429a" stroke="#19429a" stroke-width="0.9" stroke-linejoin="round" text-anchor="middle" font-weight="normal" >A</text>
<ellipse cx="469.2" cy="1465.8" rx="16.4" ry="19.1" fill="#fcee3a"/>
<text transform="translate(469.20 1482.00) scale(0.850 1)" font-size="42.5" fill="#e6141d" stroke="#e6141d" stroke-width="0.9" stroke-linejoin="round" text-anchor="middle" font-weight="normal" >B</text>
<ellipse cx="497.7" cy="1391.9" rx="16.5" ry="19.1" fill="#fcee3a"/>
<text transform="translate(497.70 1408.10) scale(0.850 1)" font-size="42.5" fill="#e6141d" stroke="#e6141d" stroke-width="0.9" stroke-linejoin="round" text-anchor="middle" font-weight="normal" >C</text>
<ellipse cx="652.5" cy="1416.4" rx="16.7" ry="19.4" fill="#fcee3a"/>
<text transform="translate(652.50 1432.60) scale(0.850 1)" font-size="42.5" fill="#19429a" stroke="#19429a" stroke-width="0.9" stroke-linejoin="round" text-anchor="middle" font-weight="normal" >D</text>
<text transform="translate(89.00 188.36) scale(0.847 1)" font-size="34.5" fill="#1d2088" stroke="#1d2088" stroke-width="0.6" stroke-linejoin="round" text-anchor="middle" font-weight="normal" >40</text>
<text transform="translate(89.20 350.28) scale(0.850 1)" font-size="34.5" fill="#1d2088" stroke="#1d2088" stroke-width="0.6" stroke-linejoin="round" text-anchor="middle" font-weight="normal" >30</text>
<text transform="translate(88.45 513.28) scale(0.848 1)" font-size="34.5" fill="#1d2088" stroke="#1d2088" stroke-width="0.6" stroke-linejoin="round" text-anchor="middle" font-weight="normal" >20</text>
<text transform="translate(88.50 676.46) scale(0.847 1)" font-size="34.5" fill="#1d2088" stroke="#1d2088" stroke-width="0.6" stroke-linejoin="round" text-anchor="middle" font-weight="normal" >10</text>
<text transform="translate(97.50 872.64) scale(0.850 1)" font-size="34.5" fill="#1d2088" stroke="#1d2088" stroke-width="0.6" stroke-linejoin="round" text-anchor="middle" font-weight="normal" >0</text>
<text transform="translate(210.25 873.28) scale(0.825 1)" font-size="34.5" fill="#1d2088" stroke="#1d2088" stroke-width="0.6" stroke-linejoin="round" text-anchor="middle" font-weight="normal" >100</text>
<text transform="translate(289.60 873.28) scale(0.836 1)" font-size="34.5" fill="#1d2088" stroke="#1d2088" stroke-width="0.6" stroke-linejoin="round" text-anchor="middle" font-weight="normal" >200</text>
<text transform="translate(371.70 873.28) scale(0.828 1)" font-size="34.5" fill="#1d2088" stroke="#1d2088" stroke-width="0.6" stroke-linejoin="round" text-anchor="middle" font-weight="normal" >300</text>
<text transform="translate(454.00 873.28) scale(0.841 1)" font-size="34.5" fill="#1d2088" stroke="#1d2088" stroke-width="0.6" stroke-linejoin="round" text-anchor="middle" font-weight="normal" >400</text>
<text transform="translate(535.30 873.28) scale(0.828 1)" font-size="34.5" fill="#1d2088" stroke="#1d2088" stroke-width="0.6" stroke-linejoin="round" text-anchor="middle" font-weight="normal" >500</text>
<text transform="translate(616.40 873.28) scale(0.830 1)" font-size="34.5" fill="#1d2088" stroke="#1d2088" stroke-width="0.6" stroke-linejoin="round" text-anchor="middle" font-weight="normal" >600</text>
<text transform="translate(698.95 873.28) scale(0.825 1)" font-size="34.5" fill="#1d2088" stroke="#1d2088" stroke-width="0.6" stroke-linejoin="round" text-anchor="middle" font-weight="normal" >700</text>
<text transform="translate(778.30 873.28) scale(0.828 1)" font-size="34.5" fill="#1d2088" stroke="#1d2088" stroke-width="0.6" stroke-linejoin="round" text-anchor="middle" font-weight="normal" >800</text>
<text transform="translate(858.50 873.28) scale(0.844 1)" font-size="34.5" fill="#1d2088" stroke="#1d2088" stroke-width="0.6" stroke-linejoin="round" text-anchor="middle" font-weight="normal" >900</text>
<text transform="translate(91.25 940.55) scale(0.840 1)" font-size="34.5" fill="#1d2088" stroke="#1d2088" stroke-width="0.6" stroke-linejoin="round" text-anchor="middle" font-weight="normal" >40</text>
<text transform="translate(91.00 1104.45) scale(0.834 1)" font-size="34.5" fill="#1d2088" stroke="#1d2088" stroke-width="0.6" stroke-linejoin="round" text-anchor="middle" font-weight="normal" >30</text>
<text transform="translate(90.50 1266.64) scale(0.849 1)" font-size="34.5" fill="#1d2088" stroke="#1d2088" stroke-width="0.6" stroke-linejoin="round" text-anchor="middle" font-weight="normal" >20</text>
<text transform="translate(90.95 1429.64) scale(0.847 1)" font-size="34.5" fill="#1d2088" stroke="#1d2088" stroke-width="0.6" stroke-linejoin="round" text-anchor="middle" font-weight="normal" >10</text>
<text transform="translate(99.90 1626.00) scale(0.850 1)" font-size="34.5" fill="#1d2088" stroke="#1d2088" stroke-width="0.6" stroke-linejoin="round" text-anchor="middle" font-weight="normal" >0</text>
<text transform="translate(211.60 1626.45) scale(0.825 1)" font-size="34.5" fill="#1d2088" stroke="#1d2088" stroke-width="0.6" stroke-linejoin="round" text-anchor="middle" font-weight="normal" >100</text>
<text transform="translate(291.35 1626.45) scale(0.843 1)" font-size="34.5" fill="#1d2088" stroke="#1d2088" stroke-width="0.6" stroke-linejoin="round" text-anchor="middle" font-weight="normal" >200</text>
<text transform="translate(374.00 1626.45) scale(0.841 1)" font-size="34.5" fill="#1d2088" stroke="#1d2088" stroke-width="0.6" stroke-linejoin="round" text-anchor="middle" font-weight="normal" >300</text>
<text transform="translate(456.20 1626.45) scale(0.841 1)" font-size="34.5" fill="#1d2088" stroke="#1d2088" stroke-width="0.6" stroke-linejoin="round" text-anchor="middle" font-weight="normal" >400</text>
<text transform="translate(536.65 1626.45) scale(0.840 1)" font-size="34.5" fill="#1d2088" stroke="#1d2088" stroke-width="0.6" stroke-linejoin="round" text-anchor="middle" font-weight="normal" >500</text>
<text transform="translate(618.15 1626.45) scale(0.829 1)" font-size="34.5" fill="#1d2088" stroke="#1d2088" stroke-width="0.6" stroke-linejoin="round" text-anchor="middle" font-weight="normal" >600</text>
<text transform="translate(700.70 1626.45) scale(0.825 1)" font-size="34.5" fill="#1d2088" stroke="#1d2088" stroke-width="0.6" stroke-linejoin="round" text-anchor="middle" font-weight="normal" >700</text>
<text transform="translate(779.70 1626.45) scale(0.828 1)" font-size="34.5" fill="#1d2088" stroke="#1d2088" stroke-width="0.6" stroke-linejoin="round" text-anchor="middle" font-weight="normal" >800</text>
<text transform="translate(860.65 1626.45) scale(0.843 1)" font-size="34.5" fill="#1d2088" stroke="#1d2088" stroke-width="0.6" stroke-linejoin="round" text-anchor="middle" font-weight="normal" >900</text>
<text transform="translate(131.20 131.20) scale(0.855 1)" font-size="48.5" fill="#d7181f" stroke="#d7181f" stroke-width="0.5" stroke-linejoin="round" text-anchor="start" font-weight="normal" >50HZ</text>
<text transform="translate(121.00 1680.00) scale(0.846 1)" font-size="49.4" fill="#17803f" stroke="#17803f" stroke-width="0.6" stroke-linejoin="round" text-anchor="start" font-weight="normal" >60HZ</text>
<text transform="translate(821.50 1673.80) scale(0.820 1)" font-size="35" fill="#1d2088" stroke="#1d2088" stroke-width="0.6" stroke-linejoin="round" text-anchor="start" font-weight="normal" >l/min</text>
<text transform="translate(891.80 1675.30) scale(0.876 1)" font-size="32.6" fill="#222b8a" stroke="#222b8a" stroke-width="0.4" stroke-linejoin="round" text-anchor="start" font-weight="300" >流量</text>
<text transform="translate(7.40 195.00) scale(1.000 1)" font-size="42" fill="#1d2088" stroke="#1d2088" stroke-width="0.45" stroke-linejoin="round" text-anchor="start" font-weight="300" >揚</text>
<text transform="translate(7.40 266.60) scale(1.000 1)" font-size="42" fill="#1d2088" stroke="#1d2088" stroke-width="0.45" stroke-linejoin="round" text-anchor="start" font-weight="300" >程</text>
<text transform="translate(9.60 335.60) scale(1.000 1)" font-size="44.5" fill="#1d2088" stroke="#1d2088" stroke-width="0.7" stroke-linejoin="round" text-anchor="start" font-weight="normal" >M</text>
</svg>
</body>
</html>
